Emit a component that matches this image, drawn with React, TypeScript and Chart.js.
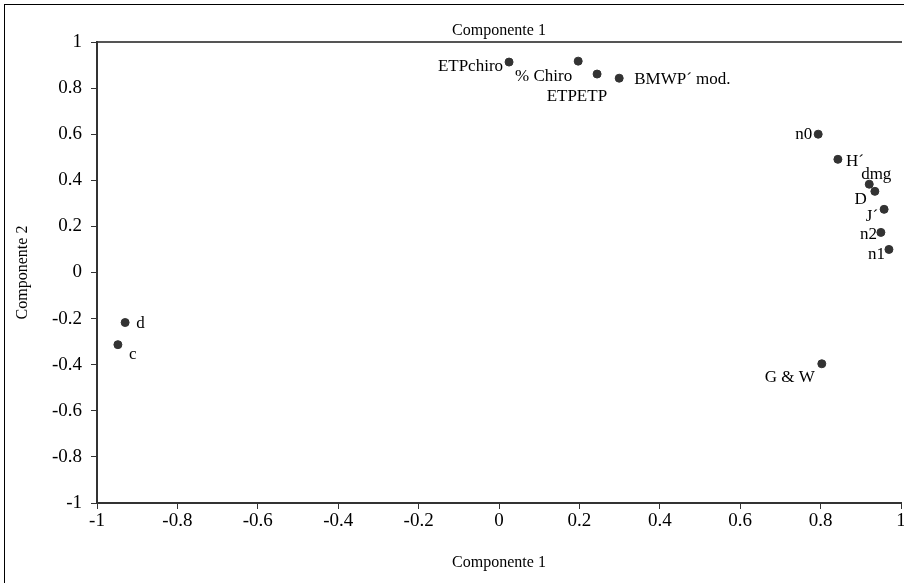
import React, { useEffect, useRef } from "react";
import { Chart, registerables } from "chart.js";

Chart.register(...registerables);

const names = ["ETPchiro", "% Chiro", "ETPETP", "BMWP´ mod.", "n0", "H´", "dmg", "D", "J´", "n2", "n1", "d", "c", "G & W"];
const comp1 = [0.025, 0.197, 0.244, 0.299, 0.794, 0.843, 0.921, 0.935, 0.958, 0.95, 0.97, -0.93, -0.948, 0.803];
const comp2 = [0.913, 0.917, 0.861, 0.843, 0.6, 0.491, 0.383, 0.352, 0.274, 0.174, 0.1, -0.217, -0.313, -0.396];

// label placement relative to each point: [dx, dy, align]
const labelPlacement: [number, number, CanvasTextAlign][] = [
  [-6, 4, "right"],
  [-6, 15, "right"],
  [10, 22, "right"],
  [15, 1, "left"],
  [-6, 0, "right"],
  [8, 2, "left"],
  [7, -10, "center"],
  [-8, 8, "right"],
  [-6, 7, "right"],
  [-4, 2, "right"],
  [-4, 5, "right"],
  [11, 1, "left"],
  [11, 10, "left"],
  [-7, 14, "right"],
];

const FONT = "'Liberation Serif', 'Times New Roman', serif";

const fmt = (v: any) => String(Number(Number(v).toFixed(1)));

const framePlugin = {
  id: "frame",
  beforeDraw(chart: any) {
    const ctx = chart.ctx;
    ctx.save();
    ctx.fillStyle = "#fff";
    ctx.fillRect(0, 0, chart.width, chart.height);
    ctx.strokeStyle = "#000";
    ctx.lineWidth = 1;
    ctx.strokeRect(4.5, 4.5, chart.width + 10, chart.height + 10);
    ctx.restore();
  },
};

const labelPlugin = {
  id: "pointLabels",
  afterDatasetsDraw(chart: any) {
    const ctx = chart.ctx;
    const meta = chart.getDatasetMeta(0);
    ctx.save();
    ctx.font = `17px ${FONT}`;
    ctx.fillStyle = "#000";
    ctx.textBaseline = "middle";
    meta.data.forEach((pt: any, i: number) => {
      const [dx, dy, align] = labelPlacement[i];
      ctx.textAlign = align;
      ctx.fillText(names[i], pt.x + dx, pt.y + dy);
    });
    ctx.restore();
  },
};

export default function App() {
  const ref = useRef<HTMLCanvasElement>(null);
  useEffect(() => {
    document.body.style.margin = "0";
    const chart = new Chart(ref.current!, {
      type: "scatter",
      data: {
        datasets: [
          {
            data: comp1.map((v, i) => ({ x: v, y: comp2[i] })),
            backgroundColor: "#333",
            borderColor: "#333",
            pointRadius: 4,
            pointHoverRadius: 4,
          },
        ],
      },
      options: {
        animation: false,
        responsive: false,
        maintainAspectRatio: false,
        layout: { autoPadding: false, padding: { left: 0, top: 0, bottom: 0, right: 3 } },
        plugins: { legend: { display: false }, tooltip: { enabled: false } },
        scales: {
          x: {
            type: "linear",
            position: "bottom",
            min: -1,
            max: 1,
            ticks: { stepSize: 0.2, color: "#000", font: { family: FONT, size: 19 }, padding: 1, autoSkip: false, maxRotation: 0, callback: fmt },
            grid: { drawOnChartArea: false, drawTicks: true, tickLength: 6, tickColor: "#333" },
            border: { display: true, color: "#333", width: 2 },
            title: { display: true, text: "Componente 1", color: "#000", font: { family: FONT, size: 16 }, padding: { top: 0, bottom: 11 } },
            afterFit(scale: any) {
              scale.height = 80;
              scale.paddingLeft = 0;
              scale.paddingRight = 0;
            },
          },
          x2: {
            type: "linear",
            position: "top",
            min: -1,
            max: 1,
            ticks: { display: false },
            grid: { display: true, drawOnChartArea: false, drawTicks: false },
            border: { display: true, color: "#555", width: 2 },
            title: { display: true, text: "Componente 1", color: "#000", font: { family: FONT, size: 16 }, padding: { top: 21, bottom: 0 } },
            afterFit(scale: any) {
              scale.height = 42;
              scale.paddingLeft = 0;
              scale.paddingRight = 0;
            },
          },
          y: {
            type: "linear",
            position: "left",
            min: -1,
            max: 1,
            ticks: { stepSize: 0.2, color: "#000", font: { family: FONT, size: 19 }, padding: 9, autoSkip: false, callback: fmt },
            grid: { drawOnChartArea: false, drawTicks: true, tickLength: 6, tickColor: "#333" },
            border: { display: true, color: "#333", width: 2 },
            title: { display: true, text: "Componente 2", color: "#000", font: { family: FONT, size: 16 }, padding: { top: 13, bottom: 0 } },
            afterFit(scale: any) {
              scale.width = 97;
              scale.paddingTop = 0;
              scale.paddingBottom = 0;
            },
          },
        },
      },
      plugins: [framePlugin, labelPlugin],
    });
    return () => chart.destroy();
  }, []);
  return (
    <div style={{ width: 904, height: 583, position: "relative" }}>
      <canvas ref={ref} width={904} height={583} style={{ display: "block" }} />
    </div>
  );
}
